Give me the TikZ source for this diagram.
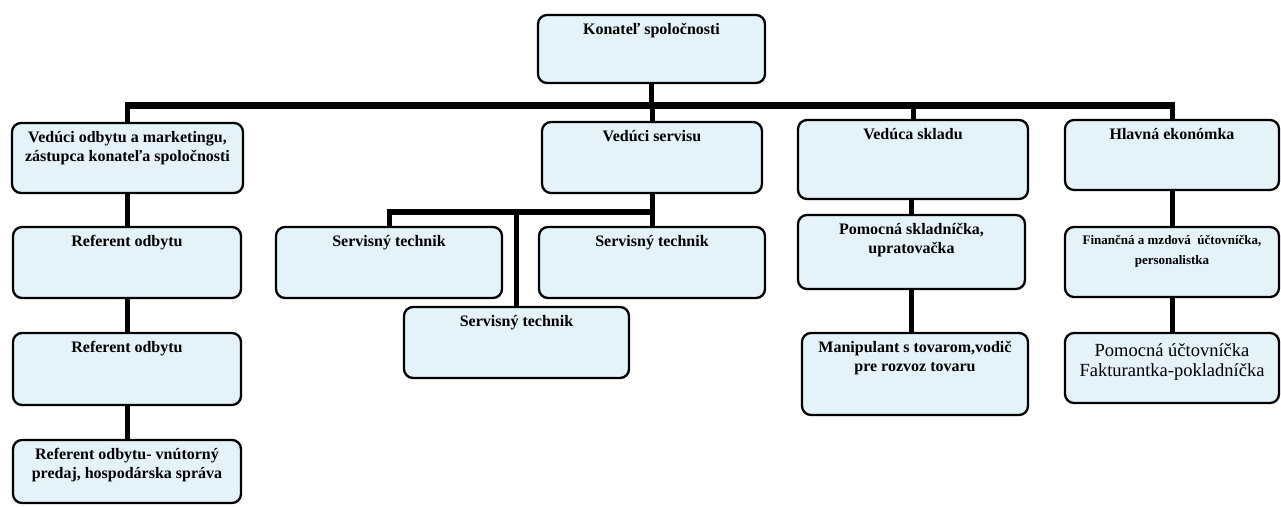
\documentclass[tikz,border=0pt]{standalone}
\usepackage{fontspec}
\setmainfont{Liberation Serif}
\usetikzlibrary{calc}
\definecolor{boxfill}{HTML}{E4F2FA}
\tikzset{
  orgbox/.style={draw=black, line width=2.3pt, fill=boxfill, rounded corners=9pt, inner sep=0pt, outer sep=0pt},
  orgtext/.style={anchor=north, inner sep=0pt, align=center, font=\bfseries\fontsize{16}{19}\selectfont},
  conn/.style={line width=5pt, line cap=butt},
  busline/.style={line width=7pt, line cap=butt},
}
\newcommand\mkbox[7][]{%
  \node[orgbox, minimum width={(#5-#3)*1pt}, minimum height={(#6-#4)*1pt}] (#2) at ({(#3+#5)/2},{(#4+#6)/2}) {};
  \node[orgtext,#1] (#2t) at ([yshift=-8pt]#2.north) {#7};
}
\begin{document}
\begin{tikzpicture}[x=1pt,y=-1pt]
\useasboundingbox (0,0) rectangle (1281,506);
% boxes
\mkbox{k}{538}{15}{765}{83}{Konateľ spoločnosti}
\mkbox{vo}{12}{123}{243}{193}{Vedúci odbytu a marketingu,\\zástupca konateľa spoločnosti}
\mkbox{ra}{13}{227}{241}{298}{Referent odbytu}
\mkbox{rb}{13}{333}{241}{405}{Referent odbytu}
\mkbox{rc}{13}{440}{241}{503}{Referent odbytu- vnútorný\\predaj, hospodárska správa}
\mkbox{vs}{542}{122}{762}{193}{Vedúci servisu}
\mkbox{sa}{276}{227}{502}{298}{Servisný technik}
\mkbox{sb}{539}{227}{765}{298}{Servisný technik}
\mkbox{sc}{404}{307}{629}{378}{Servisný technik}
\mkbox{vk}{798}{120}{1028}{199}{Vedúca skladu}
\mkbox{ps}{798}{215}{1025}{289}{Pomocná skladníčka,\\upratovačka}
\mkbox{mt}{802}{333}{1028}{415}{Manipulant s tovarom,vodič\\pre rozvoz tovaru}
\mkbox{he}{1065}{120}{1279}{190}{Hlavná ekonómka}
\mkbox[font=\bfseries\fontsize{13}{20}\selectfont]{fm}{1065}{227}{1279}{297}{Finančná a mzdová\ \ účtovníčka,\\personalistka}
\mkbox[font=\fontsize{18.5}{20.5}\selectfont, yshift=-2pt]{pu}{1065}{333}{1279}{403}{Pomocná účtovníčka\\Fakturantka-pokladníčka}
% main bus
\coordinate (busc) at (652,105);
\coordinate (bustop) at (652,101.5);
\draw[busline] (vo.north |- busc) -- (he.north |- busc);
\draw[conn] (k.south) -- (k.south |- bustop);
\draw[conn] (vo.north) -- (vo.north |- bustop);
\draw[conn] (vs.north) -- (vs.north |- bustop);
\draw[conn] (vk.north) -- (vk.north |- bustop);
\draw[conn] (he.north) -- (he.north |- bustop);
% left column
\draw[conn] (ra.north) -- (ra.north |- vo.south);
\draw[conn] (ra.south) -- (rb.north);
\draw[conn] (rb.south) -- (rc.north);
% service
\coordinate (sbus) at (652,212);
\coordinate (sbustop) at (652,209);
\draw[line width=6pt] (sa.north |- sbus) -- (sbus);
\draw[conn] (vs.south) -- (sbus);
\draw[conn] (sa.north) -- (sa.north |- sbustop);
\draw[conn] (sb.north) -- (sb.north |- sbustop);
\draw[conn] (sc.north) -- (sc.north |- sbustop);
% warehouse
\draw[conn] (ps.north) -- (ps.north |- vk.south);
\draw[conn] (ps.south) -- (ps.south |- mt.north);
% economy
\draw[conn] (he.south) -- (fm.north);
\draw[conn] (fm.south) -- (pu.north);
\end{tikzpicture}
\end{document}
